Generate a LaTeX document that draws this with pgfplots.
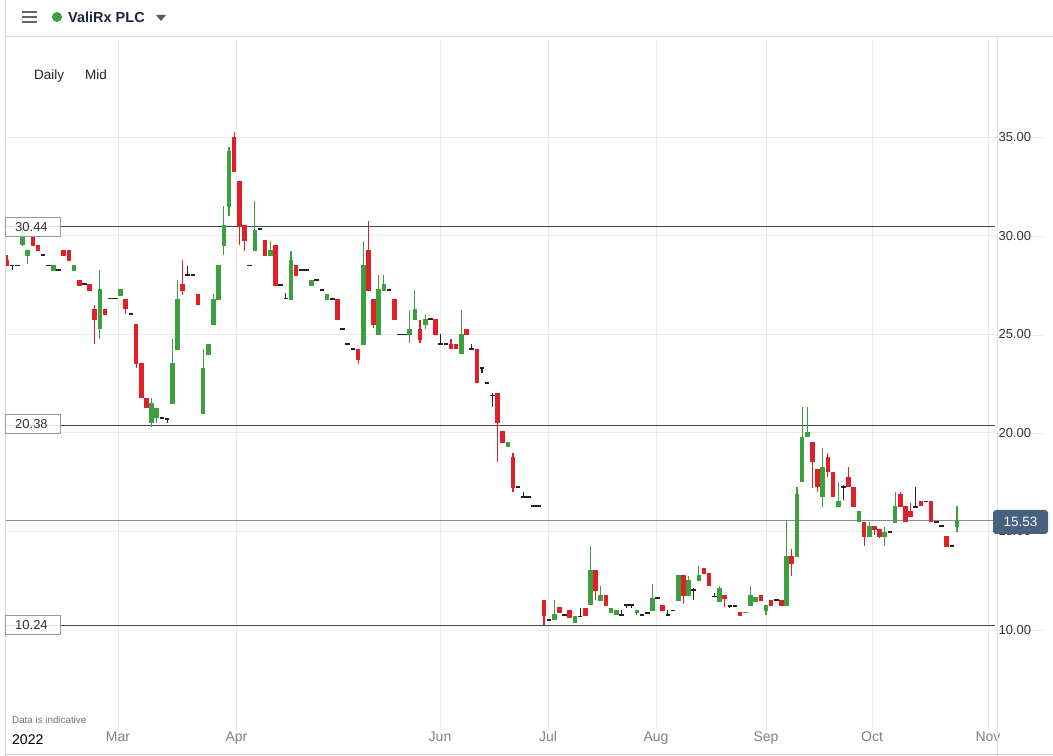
\documentclass[border=0pt]{standalone}
\usepackage{fontspec}
\setmainfont{Liberation Sans}
\usepackage{pgfplots}
\usepackage{pgfplotstable}
\pgfplotsset{compat=1.18}
\definecolor{cgreen}{RGB}{60,160,62}
\definecolor{cred}{RGB}{222,32,40}
\definecolor{cdoji}{RGB}{34,34,34}
\definecolor{gridc}{RGB}{234,234,234}
\definecolor{clevel}{RGB}{70,70,70}
\definecolor{cnow}{RGB}{140,140,140}
\definecolor{cbox}{RGB}{74,96,128}
\definecolor{cnavy}{RGB}{28,38,64}
\definecolor{cmonth}{RGB}{128,128,128}

% i open high low close
\pgfplotstableread{
i o h l c
4 29.5 30.4 29.47 30.2
5 28.97 29.27 28.56 29.27
10 28.2 28.5 28.2 28.5
14 28.2 28.5 28.2 28.5
19 25.26 28.25 24.76 27.29
23 26.94 27.29 26.94 27.29
29 20.5 21.76 20.3 21.5
30 20.75 21.26 20.5 21.26
33 21.46 24.76 21.46 23.54
34 24.2 27.75 24.2 26.78
39 20.95 24.25 20.95 23.29
40 23.95 24.5 23.95 24.5
41 25.47 27.04 25.47 26.78
42 26.73 28.5 26.73 28.5
43 29.47 31.5 29.02 30.54
44 31.45 34.5 31.0 34.29
49 29.22 31.75 29.22 30.28
52 28.97 29.73 28.97 29.27
56 26.73 29.22 26.73 28.76
60 27.45 27.75 27.45 27.75
63 26.73 27.04 26.73 27.04
70 24.45 29.73 24.45 28.5
73 24.96 28.0 24.96 27.29
74 27.2 28.0 27.2 27.55
79 24.96 26.23 24.55 25.26
80 25.72 27.24 25.72 26.28
82 25.47 25.97 25.26 25.77
89 24.0 26.23 24.0 25.0
98 19.28 19.53 19.28 19.53
107 10.5 11.52 10.5 10.8
111 10.35 10.7 10.35 10.7
114 11.27 14.26 11.27 13.04
116 11.47 12.23 11.47 11.77
118 10.86 11.1 10.86 11.1
119 10.76 11.0 10.76 11.0
123 10.86 11.0 10.76 11.0
126 10.96 12.33 10.96 11.62
131 11.47 12.79 11.47 12.79
133 11.72 12.74 11.72 12.53
135 12.48 13.25 12.48 12.79
139 11.42 12.23 11.42 12.13
144 10.86 10.91 10.86 10.91
145 11.22 12.23 11.22 11.77
146 11.42 11.67 11.42 11.67
148 10.96 11.27 10.76 11.27
152 11.22 15.58 11.22 13.75
154 13.7 17.25 13.7 16.9
155 17.5 21.3 17.5 19.79
156 19.79 21.3 19.79 20.04
159 16.74 19.23 16.24 18.27
162 16.24 17.5 16.24 16.54
166 15.48 16.03 15.48 16.03
168 14.72 15.48 14.72 15.27
171 14.72 15.22 14.26 14.97
173 15.43 17.0 15.43 16.29
185 15.22 16.29 14.97 15.53
}\greentab

\pgfplotstableread{
i o h l c
1 28.76 29.02 28.46 28.46
6 30.0 30.1 29.47 29.47
7 29.52 29.52 29.22 29.22
12 29.27 29.27 28.97 28.97
13 29.25 29.25 28.7 28.7
15 27.75 27.75 27.45 27.45
17 27.55 27.55 27.2 27.2
18 26.3 26.5 24.5 25.7
20 26.28 26.28 25.97 25.97
24 26.8 26.8 26.0 26.3
26 25.52 25.52 23.29 23.49
27 23.54 23.54 21.76 21.76
28 21.76 21.76 21.26 21.26
35 27.55 28.76 26.98 27.2
38 27.04 27.04 26.48 26.48
45 35.0 35.25 33.23 33.23
46 32.77 32.77 29.52 30.44
47 30.54 30.54 29.22 29.73
51 29.78 29.78 28.97 28.97
53 29.52 29.52 27.45 27.45
57 28.5 28.5 27.95 27.95
65 26.78 26.78 25.72 25.72
69 24.25 24.25 23.5 23.7
71 29.27 30.74 27.2 27.2
72 26.78 26.78 25.3 25.47
76 26.78 26.78 25.72 25.72
81 25.26 25.72 24.55 24.7
84 25.77 25.77 24.96 24.96
87 24.5 24.75 24.25 24.25
88 24.5 24.5 24.25 24.25
90 25.26 25.26 24.96 24.96
92 24.25 24.25 22.53 22.53
96 22.0 22.0 18.5 20.5
97 20.1 20.1 19.5 19.5
99 18.77 18.98 17.0 17.2
105 11.52 11.52 10.25 10.71
108 11.17 11.17 10.86 10.86
110 11.0 11.0 10.6 10.6
113 11.1 11.1 10.7 10.7
115 13.04 13.04 11.52 11.98
117 11.77 11.77 11.22 11.22
128 11.27 11.27 10.96 10.96
132 12.79 12.79 11.3 11.72
136 13.14 13.14 12.84 12.84
137 12.89 12.89 12.23 12.23
140 11.77 11.77 11.17 11.57
143 10.91 10.91 10.71 10.71
147 11.77 11.77 11.47 11.47
149 11.52 11.52 11.22 11.22
151 11.52 11.52 11.22 11.22
153 13.75 14.1 12.74 13.35
157 19.53 19.53 17.2 18.52
158 18.16 18.16 17.0 17.25
160 18.77 18.98 17.76 18.01
161 18.01 18.01 16.74 16.74
164 17.76 18.27 17.25 17.25
165 17.25 17.25 16.24 16.24
167 15.48 15.48 14.26 14.72
169 15.27 15.27 14.82 15.07
170 15.12 15.12 14.67 14.72
174 16.9 17.0 16.24 16.24
175 16.29 16.29 15.48 15.48
176 16.03 16.44 15.73 15.73
178 16.54 16.54 16.29 16.29
180 16.54 16.54 15.48 15.48
183 14.77 14.77 14.21 14.21
}\redtab

% doji / flat days: i high low close
\pgfplotstableread{
i h l c
2 28.5 28.25 28.5
3 28.5 28.5 28.5
8 29.02 29.02 29.02
9 28.5 28.5 28.5
11 28.25 28.25 28.25
16 27.55 27.55 27.55
21 26.8 26.8 26.8
22 26.8 26.8 26.8
25 26.02 26.02 26.02
31 20.75 20.75 20.75
32 20.7 20.5 20.7
36 28.46 28.0 28.0
37 28.0 28.0 28.0
48 28.5 28.5 28.5
50 30.33 30.33 30.33
54 27.5 27.5 27.5
55 27.1 26.8 26.8
58 28.25 28.25 28.25
59 28.25 28.25 28.25
61 27.75 27.75 27.75
62 27.24 27.24 27.24
64 26.78 26.78 26.78
66 25.26 25.26 25.26
67 24.5 24.5 24.5
68 24.25 24.25 24.25
75 27.24 27.24 27.24
77 25.0 25.0 25.0
78 25.0 25.0 25.0
83 25.77 25.77 25.77
85 25.0 24.5 24.5
86 24.5 24.5 24.5
91 24.5 24.25 24.25
93 23.29 23.03 23.29
94 22.53 22.53 22.53
95 22.0 21.3 21.9
100 17.25 17.25 17.25
101 17.0 16.75 16.75
102 16.74 16.74 16.74
103 16.29 16.29 16.29
104 16.29 16.29 16.29
106 10.5 10.5 10.5
109 10.76 10.76 10.76
112 11.1 10.7 10.7
120 11.0 10.76 10.76
121 11.27 11.1 11.27
122 11.27 11.1 11.27
124 10.76 10.76 10.76
125 10.86 10.86 10.86
127 11.62 11.62 11.62
129 11.0 10.76 10.76
130 11.0 11.0 11.0
134 12.13 11.52 12.03
138 11.88 11.7 11.7
141 11.22 11.1 11.22
142 11.22 11.22 11.22
150 11.52 11.52 11.52
163 17.35 16.6 17.25
172 14.97 14.97 14.97
177 17.25 16.24 16.24
179 16.5 16.5 16.5
181 15.48 15.48 15.48
182 15.27 15.27 15.27
184 14.26 14.26 14.26
}\dojitab

\begin{document}
\begin{tikzpicture}
\useasboundingbox (0,0) rectangle (1053bp,756bp);
\fill[white] (0,0) rectangle (1053bp,756bp);

% gridline extensions behind the price labels
\begin{scope}[shift={(0,756bp)}, x=1bp, y=-1bp]
  \foreach \yy in {137,236,335,433,532,630} \draw[draw=gridc, line width=0.9bp] (995,\yy) -- (1045,\yy);
\end{scope}

\begin{axis}[
  at={(5bp,26bp)}, anchor=south west,
  scale only axis, width=990bp, height=690bp,
  xmin=0.613, xmax=192.36, ymin=4.929, ymax=39.919,
  axis line style={draw=none},
  major tick style={draw=none},
  /pgf/number format/assume math mode=true,
  xtick={22.50,45.45,84.87,105.78,126.70,148.01,168.54,191.01},
  xticklabels={Mar,Apr,Jun,Jul,Aug,Sep,Oct,Nov},
  xticklabel style={font=\fontsize{14bp}{16bp}\selectfont, text=cmonth, anchor=base, yshift=-11bp},
  ytick={10,15,20,25,30,35},
  yticklabel pos=right,
  yticklabel={\pgfmathprintnumber[fixed,fixed zerofill,precision=2]{\tick}},
  yticklabel style={font=\fontsize{13bp}{15bp}\selectfont, text=black!80, anchor=west},
  xmajorgrids, ymajorgrids,
  grid style={draw=gridc, line width=0.9bp},
]
% level lines
\addplot[draw=clevel, line width=1bp, forget plot] coordinates {(0.613,30.44) (192.36,30.44)};
\addplot[draw=clevel, line width=1bp, forget plot] coordinates {(0.613,20.38) (192.36,20.38)};
\addplot[draw=clevel, line width=1bp, forget plot] coordinates {(0.613,10.24) (192.36,10.24)};
\addplot[draw=cnow, line width=1bp, forget plot] coordinates {(0.613,15.53) (192.36,15.53)};

% wicks
\addplot[draw=none, mark=none, forget plot,
  error bars/.cd, y dir=plus, y explicit, error mark=none,
  error bar style={draw=cgreen, line width=1.1bp}]
  table[x=i, y=l, y error plus expr=\thisrow{h}-\thisrow{l}] {\greentab};
\addplot[draw=none, mark=none, forget plot,
  error bars/.cd, y dir=plus, y explicit, error mark=none,
  error bar style={draw=cred, line width=1.1bp}]
  table[x=i, y=l, y error plus expr=\thisrow{h}-\thisrow{l}] {\redtab};
\addplot[draw=none, mark=none, forget plot,
  error bars/.cd, y dir=plus, y explicit, error mark=none,
  error bar style={draw=cdoji, line width=1.1bp}]
  table[x=i, y=l, y error plus expr=\thisrow{h}-\thisrow{l}] {\dojitab};
% bodies
\addplot[draw=none, mark=none, forget plot,
  error bars/.cd, y dir=plus, y explicit, error mark=none,
  error bar style={draw=cgreen, line width=4.6bp}]
  table[x=i, y=o, y error plus expr=\thisrow{c}-\thisrow{o}] {\greentab};
\addplot[draw=none, mark=none, forget plot,
  error bars/.cd, y dir=plus, y explicit, error mark=none,
  error bar style={draw=cred, line width=4.6bp}]
  table[x=i, y=c, y error plus expr=\thisrow{o}-\thisrow{c}] {\redtab};
\addplot[only marks, mark=-, mark size=2.3bp, forget plot,
  mark options={draw=cdoji, line width=1.3bp}]
  table[x=i, y=c] {\dojitab};
\end{axis}

\begin{scope}[shift={(0,756bp)}, x=1bp, y=-1bp]
  % frame lines
  \draw[draw=black!15, line width=1bp] (5,37) -- (1053,37);
  \draw[draw=black!15, line width=1bp] (5,0) -- (5,756);
  \draw[draw=black!10, line width=1bp] (997,37) -- (997,756);
  \draw[draw=black!20, line width=1bp] (5,755) -- (1053,755);
  % header
  \foreach \yy in {12,17,22} \draw[draw=black!60, line width=1.6bp] (22,\yy) -- (37,\yy);
  \fill[cgreen] (57,17) circle (5);
  \node[anchor=base west, inner sep=0, text=cnavy, font=\fontsize{14.5bp}{16bp}\selectfont\bfseries] at (68,23) {ValiRx PLC};
  \fill[black!65] (156,15) -- (166,15) -- (161,21) -- cycle;
  \node[anchor=base west, inner sep=0, text=black!85, font=\fontsize{13.5bp}{15bp}\selectfont] at (34,80) {Daily};
  \node[anchor=base west, inner sep=0, text=black!85, font=\fontsize{13.5bp}{15bp}\selectfont] at (85,80) {Mid};
  % bottom texts
  \node[anchor=base west, inner sep=0, text=black!55, font=\fontsize{9.8bp}{11bp}\selectfont] at (12,724) {Data is indicative};
  \node[anchor=base west, inner sep=0, text=black, font=\fontsize{14bp}{16bp}\selectfont] at (12,745) {2022};
  % level boxes
  \foreach \yy/\lab in {227/30.44, 424/20.38, 625/10.24} {
    \filldraw[fill=white, fill opacity=0.85, draw=black!40, line width=1bp] (5,\yy-9.5) rectangle (60,\yy+9.5);
    \node[anchor=west, inner sep=0, text=black!80, font=\fontsize{13bp}{15bp}\selectfont] at (15,\yy) {\lab};
  }
  \fill[cbox, rounded corners=3bp] (993,510) rectangle (1048,534);
  \node[text=white, inner sep=0, font=\fontsize{13.5bp}{15bp}\selectfont] at (1020.5,522) {15.53};
\end{scope}
\end{tikzpicture}
\end{document}
